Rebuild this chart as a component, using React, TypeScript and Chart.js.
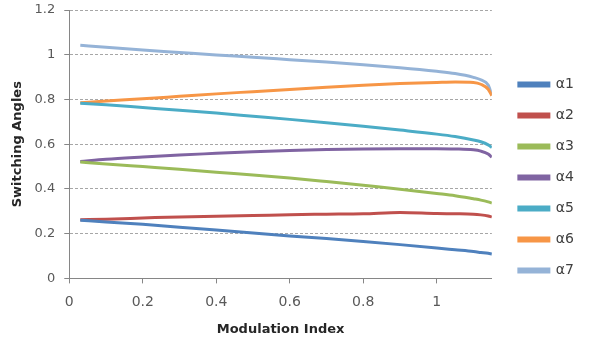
import React, { useEffect, useRef } from "react";
import { Chart, registerables } from "chart.js";

Chart.register(...registerables);

const modulationIndex = [0.03, 0.1, 0.2, 0.3, 0.4, 0.5, 0.6, 0.7, 0.8, 0.9, 1.0, 1.05, 1.1, 1.12, 1.14, 1.15];

const alpha1 = [0.26, 0.252, 0.242, 0.229, 0.216, 0.203, 0.19, 0.178, 0.165, 0.151, 0.136, 0.128, 0.12, 0.116, 0.112, 0.109];
const alpha2 = [0.262, 0.265, 0.27, 0.275, 0.278, 0.281, 0.285, 0.287, 0.289, 0.295, 0.29, 0.289, 0.287, 0.284, 0.279, 0.275];
const alpha3 = [0.52, 0.512, 0.5, 0.488, 0.475, 0.462, 0.449, 0.433, 0.416, 0.399, 0.38, 0.37, 0.356, 0.35, 0.342, 0.337];
const alpha4 = [0.523, 0.533, 0.543, 0.552, 0.559, 0.566, 0.572, 0.576, 0.579, 0.58, 0.58, 0.579, 0.575, 0.569, 0.556, 0.542];
const alpha5 = [0.783, 0.776, 0.764, 0.752, 0.739, 0.725, 0.711, 0.696, 0.68, 0.663, 0.645, 0.634, 0.619, 0.611, 0.597, 0.585];
const alpha6 = [0.785, 0.793, 0.803, 0.814, 0.825, 0.835, 0.845, 0.855, 0.864, 0.871, 0.876, 0.878, 0.876, 0.868, 0.846, 0.817];
const alpha7 = [1.042, 1.033, 1.021, 1.01, 0.999, 0.989, 0.978, 0.967, 0.955, 0.942, 0.926, 0.916, 0.899, 0.888, 0.865, 0.82];

const seriesNames = ["α1", "α2", "α3", "α4", "α5", "α6", "α7"];
const seriesValues = [alpha1, alpha2, alpha3, alpha4, alpha5, alpha6, alpha7];
const seriesColors = ["#4F81BD", "#C0504D", "#9BBB59", "#8064A2", "#4BACC6", "#F79646", "#95B3D7"];

const legendShift = {
  id: "legendShift",
  afterLayout(chart: any) {
    const lg = chart.legend;
    if (!lg) return;
    lg.left += 10;
    lg.right += 10;
    lg.top += 9;
    lg.bottom += 9;
  },
};

export default function App() {
  const ref = useRef<HTMLCanvasElement | null>(null);

  useEffect(() => {
    document.body.style.margin = "0";
    const canvas = ref.current;
    if (!canvas) return;
    const chart = new Chart(canvas, {
      type: "line",
      data: {
        datasets: seriesNames.map((name, i) => ({
          label: name,
          data: modulationIndex.map((x, j) => ({ x, y: seriesValues[i][j] })),
          borderColor: seriesColors[i],
          backgroundColor: seriesColors[i],
          borderWidth: 3,
          pointRadius: 0,
          cubicInterpolationMode: "monotone" as const,
          fill: false,
        })),
      },
      plugins: [legendShift],
      options: {
        animation: false,
        responsive: false,
        maintainAspectRatio: false,
        layout: { padding: { left: 2, right: 17, top: 0, bottom: 9 } },
        plugins: {
          legend: {
            position: "right",
            labels: {
              boxWidth: 30,
              boxHeight: 3,
              padding: 17,
              color: "#404040",
              font: { family: "DejaVu Sans", size: 14 },
            },
          },
          tooltip: { enabled: false },
        },
        scales: {
          x: {
            type: "linear",
            min: 0,
            max: 1.15,
            afterBuildTicks: (scale: any) => {
              scale.ticks = scale.ticks.filter(
                (t: any) => Math.abs(t.value * 5 - Math.round(t.value * 5)) < 1e-6
              );
            },
            ticks: {
              stepSize: 0.2,
              color: "#595959",
              font: { family: "DejaVu Sans", size: 14 },
              padding: 10.6,
              maxRotation: 0,
              callback: (v: any) => String(Math.round(Number(v) * 10) / 10),
            },
            grid: {
              drawOnChartArea: false,
              tickLength: 5,
              color: "#868686",
            },
            border: { color: "#868686", width: 1 },
            title: {
              display: true,
              text: "Modulation Index",
              color: "#262626",
              font: { family: "DejaVu Sans", size: 13, weight: "bold" },
              padding: { top: 0, bottom: 0 },
            },
          },
          y: {
            type: "linear",
            min: 0,
            max: 1.2,
            afterFit: (scale: any) => {
              scale.paddingTop = 10;
              scale.paddingBottom = 10;
            },
            ticks: {
              stepSize: 0.2,
              color: "#595959",
              font: { family: "DejaVu Sans", size: 13 },
              padding: 9,
              callback: (v: any) => String(Math.round(Number(v) * 10) / 10),
            },
            grid: {
              color: "#A6A6A6",
              tickLength: 5,
              tickColor: "#868686",
            },
            border: { color: "#868686", width: 1, dash: [3, 2] },
            title: {
              display: true,
              text: "Switching Angles",
              color: "#262626",
              font: { family: "DejaVu Sans", size: 13, weight: "bold" },
              padding: { top: 8, bottom: 0 },
            },
          },
        },
      },
    });
    return () => chart.destroy();
  }, []);

  return (
    <div style={{ width: 591, height: 346, background: "#fff" }}>
      <canvas ref={ref} width={591} height={346} style={{ display: "block" }} />
    </div>
  );
}
